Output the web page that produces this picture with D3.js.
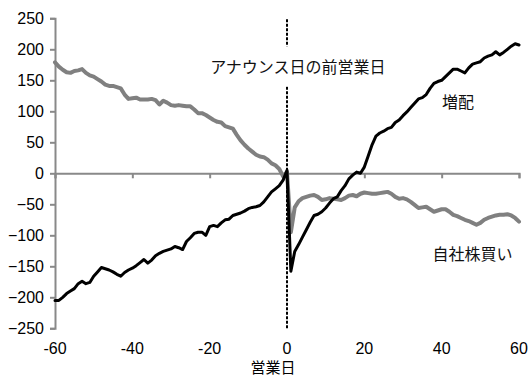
<!DOCTYPE html>
<html><head><meta charset="utf-8">
<script src="https://cdn.jsdelivr.net/npm/d3@7"></script>
<style>body{margin:0;background:#fff;}svg{display:block;}</style>
</head><body>
<svg id="c" width="529" height="376"></svg>
<script>
const days = d3.range(-60, 61);
const dividend = [
-205,-205,-200,-194,-190,-186,-178,-174,-178,-176,
-166,-159,-152,-154,-156,-159,-163,-166,-160,-156,
-153,-149,-144,-139,-145,-140,-133,-129,-126,-124,
-122,-118,-120,-123,-110,-104,-97,-95,-95,-100,
-86,-84,-86,-80,-75,-74,-68,-66,-64,-61,
-57,-55,-54,-52,-46,-38,-30,-25,-20,-11,
5,
-158,-126,-115,-103,-91,-79,-68,-66,-62,-56,
-48,-41,-38,-28,-20,-9,-3,2,0,10,
28,46,60,65,68,72,74,82,86,93,
99,106,113,120,122,127,137,145,148,150,
156,162,168,168,165,162,170,176,178,180,
186,189,191,196,191,195,200,205,209,207];
const buyback = [
179,172,167,163,162,165,166,168,162,158,
156,152,148,143,141,141,139,137,127,120,
121,122,119,119,119,120,118,111,117,114,
110,109,110,109,108,108,103,97,97,94,
90,86,83,82,76,74,72,62,53,46,
40,35,30,27,26,22,16,13,7,-5,
2,
-95,-55,-45,-40,-38,-36,-35,-38,-43,-42,
-40,-41,-42,-43,-40,-36,-35,-37,-33,-31,
-32,-33,-33,-32,-31,-30,-33,-38,-41,-40,
-42,-46,-51,-56,-55,-54,-58,-62,-60,-58,
-58,-62,-67,-69,-72,-75,-77,-80,-83,-80,
-75,-72,-70,-68,-67,-67,-66,-68,-72,-78];
const xTicks = [-60,-40,-20,0,20,40,60];
const yTicks = [-250,-200,-150,-100,-50,0,50,100,150,200,250];
const xTitle = "営業日";
const eventLabel = "アナウンス日の前営業日";
const seriesNames = ["増配","自社株買い"];

const svg = d3.select("#c");
const x = d3.scaleLinear().domain([-60,60]).range([55,519]);
const y = d3.scaleLinear().domain([-250,250]).range([328.3,18.3]);
const axisCol = "#898989";
const tickFont = "'Liberation Sans', Arial, sans-serif";
const jpFont = "'Noto Sans CJK JP', sans-serif";

// y axis
const ya = svg.append("g").attr("transform",`translate(${x(-60)},0)`)
  .call(d3.axisLeft(y).tickValues(yTicks).tickSize(5).tickPadding(6).tickFormat(d3.format("d")));
ya.select(".domain").attr("stroke",axisCol).attr("stroke-width",2);
ya.selectAll(".tick line").attr("stroke",axisCol).attr("stroke-width",2);
ya.selectAll(".tick text").attr("font-family",tickFont).attr("font-size",16).attr("fill","#000");

// x axis along zero line
const xa = svg.append("g").attr("transform",`translate(0,${y(0)})`)
  .call(d3.axisBottom(x).tickValues(xTicks).tickSize(5).tickFormat(()=>""));
xa.select(".domain").attr("stroke",axisCol).attr("stroke-width",2);
xa.selectAll(".tick line").attr("stroke",axisCol).attr("stroke-width",2);
// tick labels at bottom
svg.append("g").selectAll("text").data(xTicks).join("text")
  .attr("x",d=>x(d)).attr("y",y(-250)+26)
  .attr("text-anchor","middle").attr("font-family",tickFont).attr("font-size",16).attr("fill","#000")
  .text(d=>d);
svg.append("text").attr("x",x(-3.6)).attr("y",y(-250)+45)
  .attr("text-anchor","middle").attr("font-family",jpFont).attr("font-size",15).attr("fill","#000")
  .text(xTitle);

const line = d3.line().x((d,i)=>x(days[i])).y(d=>y(d)).curve(d3.curveLinear);
svg.append("path").datum(buyback).attr("d",line).attr("fill","none")
  .attr("stroke","#808080").attr("stroke-width",4).attr("stroke-linejoin","round").attr("stroke-linecap","round");
svg.append("path").datum(dividend).attr("d",line).attr("fill","none")
  .attr("stroke","#000").attr("stroke-width",3).attr("stroke-linejoin","round").attr("stroke-linecap","round");

// event dashed line
svg.append("line").attr("x1",x(0)).attr("x2",x(0)).attr("y1",y(250)+1).attr("y2",y(-250)+1)
  .attr("stroke","#000").attr("stroke-width",2).attr("stroke-dasharray","3,1.5");
const ev = svg.append("text").attr("x",x(2.8)).attr("y",y(171)+6)
  .attr("text-anchor","middle").attr("font-family",jpFont).attr("font-size",16).attr("fill","#111")
  .text(eventLabel);
const bb = ev.node().getBBox();
svg.insert("rect", () => ev.node()).attr("x",bb.x-2).attr("y",bb.y-8).attr("width",bb.width+4).attr("height",bb.height+16).attr("fill","#fff");

svg.append("text").attr("x",x(44.2)).attr("y",y(115)+6)
  .attr("text-anchor","middle").attr("font-family",jpFont).attr("font-size",16).attr("fill","#111")
  .text(seriesNames[0]);
svg.append("text").attr("x",x(48)).attr("y",y(-130)+6)
  .attr("text-anchor","middle").attr("font-family",jpFont).attr("font-size",16).attr("fill","#111")
  .text(seriesNames[1]);
</script>
</body></html>
